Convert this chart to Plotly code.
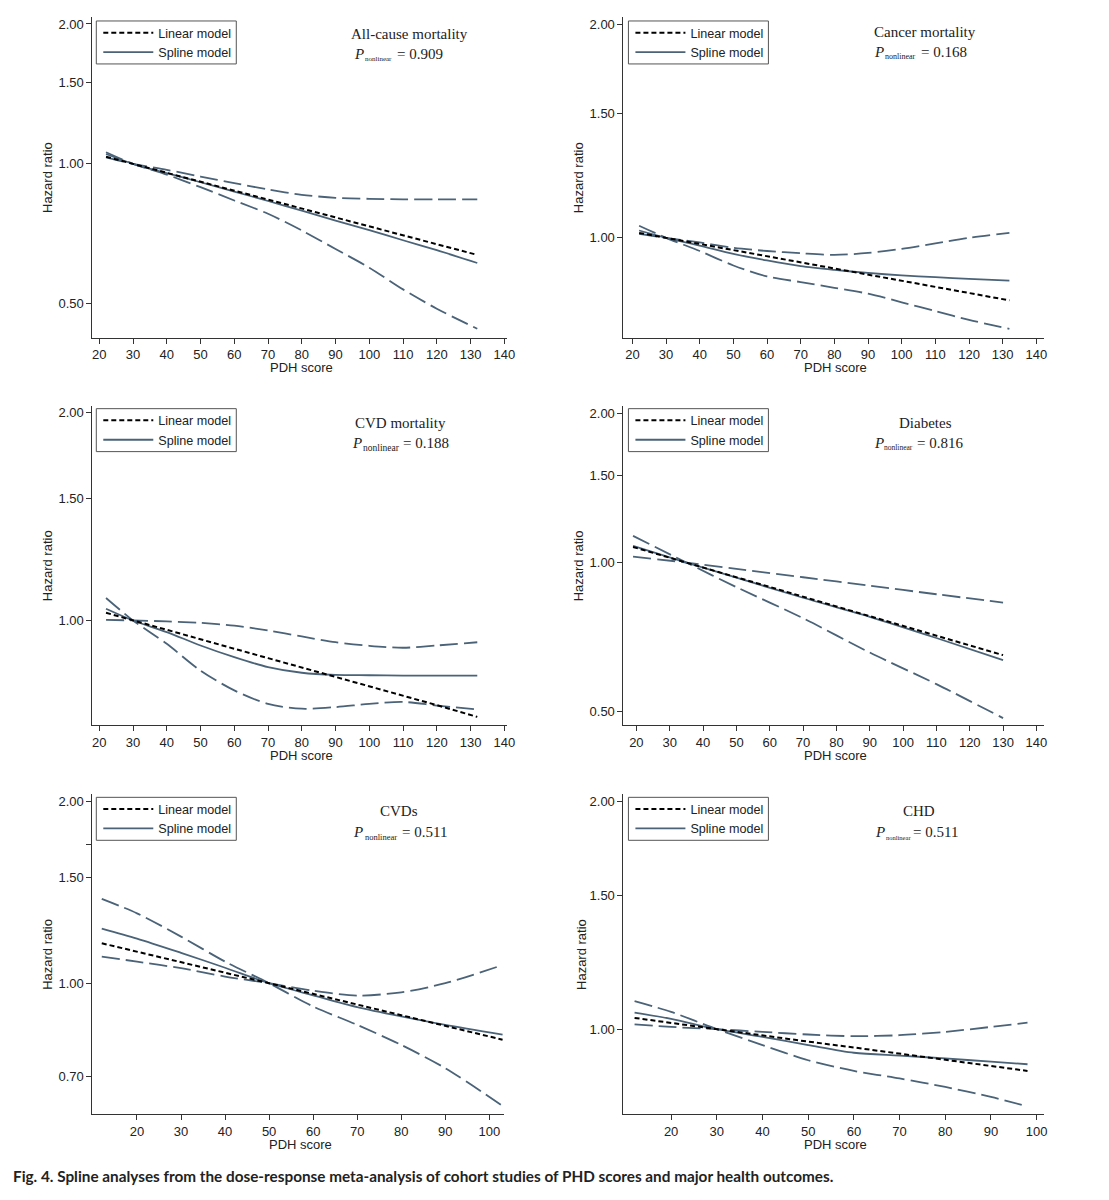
import plotly.graph_objects as go

# ---------------- data ----------------
titles = ["All-cause mortality", "Cancer mortality", "CVD mortality", "Diabetes", "CVDs", "CHD"]
p_nonlinear = ["0.909", "0.168", "0.188", "0.816", "0.511", "0.511"]

x_p1 = [22, 30, 40, 50, 60, 70, 80, 90, 100, 110, 120, 132]
lin_p1 = [1.036, 1.0, 0.957, 0.916, 0.876, 0.838, 0.802, 0.768, 0.735, 0.703, 0.673, 0.637]
spl_p1 = [1.05, 1.0, 0.955, 0.913, 0.872, 0.832, 0.793, 0.755, 0.72, 0.685, 0.652, 0.612]
up_p1 = [1.033, 1.0, 0.971, 0.939, 0.909, 0.881, 0.858, 0.845, 0.841, 0.839, 0.839, 0.839]
lo_p1 = [1.059, 1.0, 0.948, 0.891, 0.834, 0.781, 0.719, 0.656, 0.598, 0.537, 0.488, 0.442]

x_p2 = [22, 30, 40, 50, 60, 70, 80, 90, 100, 110, 120, 132]
lin_p2 = [1.016, 1.0, 0.980, 0.961, 0.942, 0.923, 0.905, 0.887, 0.870, 0.853, 0.836, 0.816]
spl_p2 = [1.024, 1.0, 0.975, 0.949, 0.929, 0.912, 0.901, 0.892, 0.885, 0.880, 0.875, 0.870]
up_p2 = [1.013, 1.0, 0.985, 0.968, 0.958, 0.951, 0.946, 0.952, 0.965, 0.982, 1.0, 1.016]
lo_p2 = [1.04, 1.0, 0.958, 0.914, 0.882, 0.866, 0.850, 0.834, 0.811, 0.788, 0.766, 0.744]

x_p3 = [22, 30, 40, 50, 60, 70, 80, 90, 100, 110, 120, 132]
lin_p3 = [1.026, 1.0, 0.969, 0.939, 0.910, 0.882, 0.855, 0.828, 0.803, 0.778, 0.754, 0.725]
spl_p3 = [1.04, 1.0, 0.962, 0.92, 0.885, 0.856, 0.84, 0.834, 0.833, 0.832, 0.832, 0.832]
up_p3 = [1.002, 1.0, 0.997, 0.992, 0.983, 0.967, 0.948, 0.930, 0.919, 0.913, 0.92, 0.93]
lo_p3 = [1.078, 1.0, 0.925, 0.846, 0.792, 0.757, 0.745, 0.749, 0.757, 0.762, 0.753, 0.743]

x_p4 = [19, 35, 50, 70, 90, 110, 130]
lin_p4 = [1.075, 1.0, 0.934, 0.853, 0.779, 0.711, 0.650]
spl_p4 = [1.081, 1.0, 0.932, 0.849, 0.777, 0.704, 0.635]
up_p4 = [1.028, 1.0, 0.971, 0.934, 0.898, 0.863, 0.830]
lo_p4 = [1.132, 1.0, 0.892, 0.772, 0.658, 0.568, 0.485]

x_p5 = [12, 20, 30, 40, 50, 60, 70, 80, 90, 103]
lin_p5 = [1.165, 1.129, 1.084, 1.041, 1.0, 0.960, 0.922, 0.885, 0.850, 0.806]
spl_p5 = [1.232, 1.186, 1.123, 1.061, 1.0, 0.955, 0.913, 0.881, 0.853, 0.822]
up_p5 = [1.107, 1.086, 1.059, 1.026, 1.0, 0.972, 0.954, 0.966, 1.0, 1.072]
lo_p5 = [1.38, 1.306, 1.195, 1.086, 1.0, 0.915, 0.853, 0.79, 0.723, 0.626]

x_p6 = [12, 20, 30, 40, 50, 60, 70, 80, 90, 98]
lin_p6 = [1.035, 1.019, 1.0, 0.982, 0.963, 0.946, 0.928, 0.911, 0.894, 0.881]
spl_p6 = [1.052, 1.032, 1.0, 0.977, 0.953, 0.931, 0.923, 0.915, 0.906, 0.899]
up_p6 = [1.015, 1.007, 1.0, 0.992, 0.984, 0.979, 0.982, 0.992, 1.007, 1.02]
lo_p6 = [1.089, 1.054, 1.0, 0.953, 0.910, 0.881, 0.861, 0.839, 0.814, 0.791]

xtick_long = [20, 30, 40, 50, 60, 70, 80, 90, 100, 110, 120, 130, 140]
xtick_short = [20, 30, 40, 50, 60, 70, 80, 90, 100]
ytick_a = [0.5, 1.0, 1.5, 2.0]
ytick_b = [1.0, 1.5, 2.0]
ytick_c = [0.7, 1.0, 1.5, 1.7, 2.0]

caption = ("Fig. 4. Spline analyses from the dose-response meta-analysis of cohort studies "
           "of PHD scores and major health outcomes.")

# ---------------- layout constants ----------------
W, H = 1109, 1200
SLATE = "#4a6378"
AXC = "#333333"
SANS = "Liberation Sans, Arial, sans-serif"
SERIF = "Liberation Serif, Times New Roman, serif"

boxes = [(93, 511, 16, 337), (628, 1052, 16, 337),
         (93, 511, 405, 725), (628, 1052, 405, 725),
         (93, 508, 794, 1114), (628, 1052, 794, 1114)]
xranges = [(17.94, 140.9), (17.35, 142.4), (17.94, 140.9), (16.13, 142.4), (9.86, 103.4), (9.57, 101.7)]
yranges = [(-0.374, 0.316), (-0.141, 0.3116), (-0.152, 0.3112), (-0.329, 0.317), (-0.217, 0.3133), (-0.112, 0.310)]
title_pos = [(412, 33), (932, 31), (403, 422), (932, 422), (402, 811), (926, 811)]
pline_y = [53, 51, 442, 442, 832, 832]
p_right = [367, 890, 365, 890, 366, 891]
sub_left = [368, 891, 366, 890, 368, 892]
eq_left = [400, 928, 406, 924, 405, 920]
sub_sizes = [7, 8, 9.5, 7.5, 8.5, 6.5]
ylab_x = [48, 583, 48, 583, 48, 585]
leg_left = [97, 633, 97, 633, 97, 633]
leg_top = [20, 20, 408, 408, 797, 797]
LEG_W, LEG_H = 141, 43

series = [
    (x_p1, lin_p1, spl_p1, up_p1, lo_p1),
    (x_p2, lin_p2, spl_p2, up_p2, lo_p2),
    (x_p3, lin_p3, spl_p3, up_p3, lo_p3),
    (x_p4, lin_p4, spl_p4, up_p4, lo_p4),
    (x_p5, lin_p5, spl_p5, up_p5, lo_p5),
    (x_p6, lin_p6, spl_p6, up_p6, lo_p6),
]
xticks = [xtick_long, xtick_long, xtick_long, xtick_long, xtick_short, xtick_short]
yticks = [ytick_a, ytick_b, ytick_b, ytick_a, ytick_c, ytick_b]


def fx(px):
    return px / W


def fy(py):
    return 1 - py / H


fig = go.Figure()
layout = dict(width=W, height=H, margin=dict(l=0, r=0, t=0, b=0),
              paper_bgcolor="white", plot_bgcolor="white", showlegend=True)
annotations = []
shapes = []

for i in range(6):
    n = i + 1
    xs, lin, spl, up, lo = series[i]
    xa = "x" if n == 1 else f"x{n}"
    ya = "y" if n == 1 else f"y{n}"
    lg = "legend" if n == 1 else f"legend{n}"
    for ci in (up, lo):
        fig.add_trace(go.Scatter(x=xs, y=ci, mode="lines", xaxis=xa, yaxis=ya,
                                 line=dict(color=SLATE, width=1.8, dash="18px,6px", shape="spline", smoothing=0.8),
                                 showlegend=False, hoverinfo="skip"))
    fig.add_trace(go.Scatter(x=xs, y=spl, mode="lines", xaxis=xa, yaxis=ya, name="Spline model",
                             line=dict(color=SLATE, width=1.8, shape="spline", smoothing=0.8),
                             legend=lg, legendrank=2))
    fig.add_trace(go.Scatter(x=xs, y=lin, mode="lines", xaxis=xa, yaxis=ya, name="Linear model",
                             line=dict(color="black", width=2, dash="5px,3px"),
                             legend=lg, legendrank=1))

    l, r, t, b = boxes[i]
    xkey = "xaxis" if n == 1 else f"xaxis{n}"
    ykey = "yaxis" if n == 1 else f"yaxis{n}"
    layout[xkey] = dict(domain=[fx(l), fx(r)], range=list(xranges[i]), anchor=ya,
                        tickvals=xticks[i], ticks="outside", ticklen=5, tickcolor=AXC,
                        showline=True, linecolor=AXC, linewidth=1, showgrid=False, zeroline=False,
                        tickfont=dict(family=SANS, size=13, color="#222"), fixedrange=True)
    tv = yticks[i]
    tt = ["" if v == 1.7 else f"{v:.2f}" for v in tv]
    layout[ykey] = dict(domain=[fy(b), fy(t)], type="log", range=list(yranges[i]), anchor=xa,
                        tickvals=tv, ticktext=tt, ticks="outside", ticklen=5, tickcolor=AXC,
                        showline=True, linecolor=AXC, linewidth=1, showgrid=False, zeroline=False,
                        tickfont=dict(family=SANS, size=13, color="#222"), fixedrange=True)
    layout[lg] = dict(x=fx(leg_left[i] + 2), y=fy(leg_top[i] - 3), xanchor="left", yanchor="top",
                      borderwidth=0, bgcolor="rgba(0,0,0,0)",
                      font=dict(family=SANS, size=12.6, color="#222"), itemwidth=50)
    shapes.append(dict(type="rect", xref="paper", yref="paper",
                       x0=fx(leg_left[i]), x1=fx(leg_left[i] + LEG_W),
                       y0=fy(leg_top[i] + LEG_H), y1=fy(leg_top[i]),
                       line=dict(color="#555", width=1), fillcolor="rgba(0,0,0,0)", layer="above"))

    tx, ty = title_pos[i]
    annotations.append(dict(x=fx(tx), y=fy(ty), xref="paper", yref="paper", showarrow=False,
                            text=titles[i], xanchor="center", yanchor="middle",
                            font=dict(family=SERIF, size=15, color="#222")))
    py_ = pline_y[i]
    annotations.append(dict(x=fx(p_right[i]), y=fy(py_), xref="paper", yref="paper", showarrow=False,
                            text="<i>P</i>", xanchor="right", yanchor="middle", xshift=2,
                            font=dict(family=SERIF, size=15, color="#222")))
    annotations.append(dict(x=fx(sub_left[i]), y=fy(py_ + 5), xref="paper", yref="paper", showarrow=False,
                            text="nonlinear", xanchor="left", yanchor="middle", xshift=-2,
                            font=dict(family=SERIF, size=sub_sizes[i], color="#222")))
    annotations.append(dict(x=fx(eq_left[i]), y=fy(py_), xref="paper", yref="paper", showarrow=False,
                            text=f"= {p_nonlinear[i]}", xanchor="left", yanchor="middle", xshift=-2,
                            font=dict(family=SERIF, size=15, color="#222")))
    annotations.append(dict(x=fx(ylab_x[i]), y=fy((t + b) / 2), xref="paper", yref="paper", showarrow=False,
                            text="Hazard ratio", textangle=-90, xanchor="center", yanchor="middle",
                            font=dict(family=SANS, size=13, color="#222")))
    annotations.append(dict(x=fx((l + r) / 2 + 2), y=fy(b + 30), xref="paper", yref="paper", showarrow=False,
                            text="PDH score", xanchor="center", yanchor="middle",
                            font=dict(family=SANS, size=13, color="#222")))

annotations.append(dict(x=fx(13), y=fy(1176), xref="paper", yref="paper", showarrow=False,
                        text=f"<b>{caption}</b>", xanchor="left", yanchor="middle", xshift=-2,
                        font=dict(family="Lato, sans-serif", size=15.3, color="#222")))
layout["annotations"] = annotations
layout["shapes"] = shapes
fig.update_layout(**layout)
fig.write_html("out.html", config={"displayModeBar": False},
               post_script="document.body.style.margin='0px';")
